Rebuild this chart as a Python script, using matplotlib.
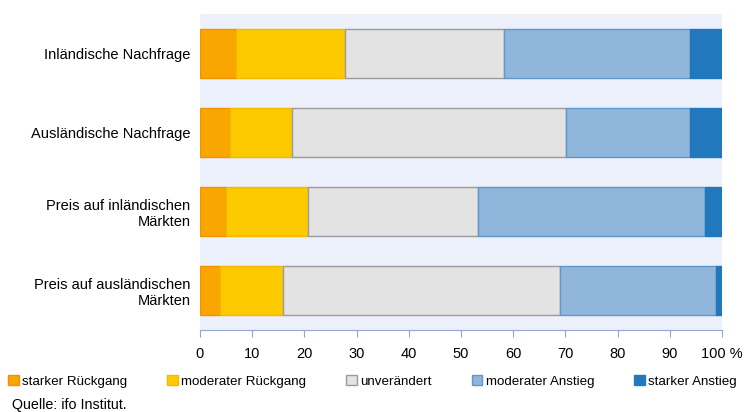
import matplotlib.pyplot as plt
from matplotlib.patches import Patch

plt.rcParams['font.family'] = ['Liberation Sans', 'DejaVu Sans']

categories = ['Inländische Nachfrage', 'Ausländische Nachfrage',
              'Preis auf inländischen\nMärkten', 'Preis auf ausländischen\nMärkten']
series_names = ['starker Rückgang', 'moderater Rückgang', 'unverändert',
                'moderater Anstieg', 'starker Anstieg']
starker_rueckgang = [6.9, 5.8, 4.9, 3.9]
moderater_rueckgang = [20.8, 11.9, 15.7, 12.0]
unveraendert = [30.5, 52.5, 32.7, 53.0]
moderater_anstieg = [35.7, 23.7, 43.5, 29.9]
starker_anstieg = [6.1, 6.1, 3.2, 1.2]
x_ticks = [0, 10, 20, 30, 40, 50, 60, 70, 80, 90, 100]
x_ticklabels = ['0', '10', '20', '30', '40', '50', '60', '70', '80', '90', '100 %']

series = [starker_rueckgang, moderater_rueckgang, unveraendert,
          moderater_anstieg, starker_anstieg]
faces = ['#F9A602', '#FDCA00', '#E3E3E3', '#91B6DC', '#2178BD']
edges = ['#F39200', '#F5B800', '#9B9B9B', '#5E97CC', '#2178BD']

fig = plt.figure(figsize=(7.45, 4.12), dpi=100)
ax = fig.add_axes([200 / 745, 82 / 412, 522 / 745, 316 / 412])
ax.set_facecolor('#ECF0FA')

ypos = list(range(len(categories)))
left = [0.0] * len(categories)
for vals, fc, ec in zip(series, faces, edges):
    ax.barh(ypos, vals, left=left, height=0.63, color=fc, edgecolor=ec, linewidth=1)
    left = [l + v for l, v in zip(left, vals)]

ax.set_xlim(0, 100)
ax.set_ylim(len(categories) - 0.5, -0.5)
ax.set_yticks(ypos)
ax.set_yticklabels(categories, fontsize=10.5, ha='right')
ax.tick_params(axis='y', length=0, pad=7)
ax.set_xticks(x_ticks)
ax.set_xticklabels(x_ticklabels, fontsize=10.5)
ax.tick_params(axis='x', length=5, color='#8FA8D8', pad=7)
for s in ['top', 'right', 'left']:
    ax.spines[s].set_visible(False)
ax.spines['bottom'].set_color('#8FA8D8')

handles = [Patch(facecolor=fc, edgecolor=ec) for fc, ec in zip(faces, edges)]
fig.legend(handles, series_names, loc='center left', bbox_to_anchor=(0.011, 1 - 381.5 / 412),
           ncol=5, frameon=False, fontsize=9.6, handlelength=0.8, handleheight=0.8,
           handletextpad=0.25, columnspacing=3.0, borderaxespad=0.0, borderpad=0.0)

fig.text(12 / 745, 1 - 405 / 412, 'Quelle: ifo Institut.', fontsize=10.3, va='center')

fig.savefig('out.png', dpi=100)
